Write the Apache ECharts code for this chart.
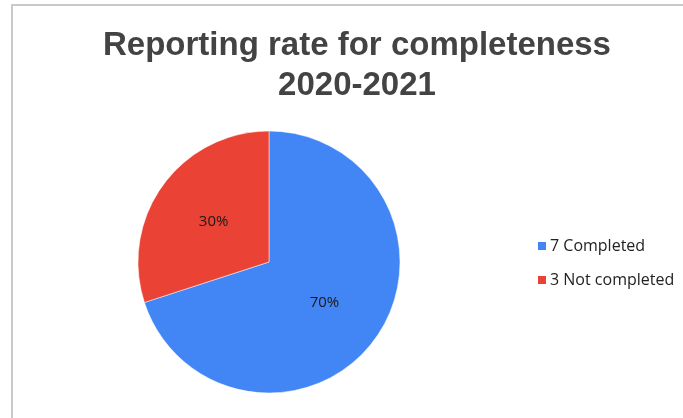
<!DOCTYPE html>
<html>
<head>
<meta charset="utf-8">
<script src="https://cdn.jsdelivr.net/npm/echarts@6/dist/echarts.min.js"></script>
<style>
html,body{margin:0;padding:0;background:#fff;}
#c{width:683px;height:418px;}
</style>
</head>
<body>
<div id="c"></div>
<script>
var titleLines = ["Reporting rate for completeness", "2020-2021"];
var categories = ["7 Completed", "3 Not completed"];
var values = [7, 3];
var colors = ["#4285F4", "#EA4335"];

var chart = echarts.init(document.getElementById('c'), null, {renderer: 'canvas'});
chart.setOption({
  animation: false,
  backgroundColor: '#ffffff',
  title: {
    text: titleLines.join('\n'),
    left: 352,
    textAlign: 'center',
    top: 21,
    textStyle: {
      fontFamily: '"Liberation Sans Narrow", "Arial Narrow", "Liberation Sans", sans-serif',
      fontWeight: 'bold',
      fontSize: 33,
      lineHeight: 40,
      color: '#434343'
    }
  },
  legend: {
    orient: 'vertical',
    left: 531,
    top: 233,
    itemWidth: 10,
    itemHeight: 10,
    itemGap: 18,
    icon: 'rect',
    data: categories,
    textStyle: {
      fontFamily: '"Open Sans", "Noto Sans", sans-serif',
      fontSize: 16,
      color: '#222222',
      padding: [0, 0, 0, -2]
    }
  },
  graphic: [
    {type: 'rect', shape: {x: 11, y: 4, width: 672, height: 2}, style: {fill: '#c9c9c9'}, silent: true},
    {type: 'rect', shape: {x: 11, y: 4, width: 2, height: 414}, style: {fill: '#c9c9c9'}, silent: true}
  ],
  series: [{
    type: 'pie',
    center: [269, 262],
    radius: 131,
    startAngle: 90,
    clockwise: true,
    data: categories.map(function (n, i) {
      return {name: n, value: values[i], itemStyle: {color: colors[i]}};
    }),
    itemStyle: {borderColor: '#ffffff', borderWidth: 0.5},
    label: {
      show: true,
      position: 'inside',
      formatter: function (p) { return Math.round(p.percent) + '%'; },
      fontFamily: '"Open Sans", "Noto Sans", sans-serif',
      fontSize: 15,
      color: '#1a1a1a'
    },
    labelLine: {show: false},
    emphasis: {disabled: true}
  }]
});
</script>
</body>
</html>
